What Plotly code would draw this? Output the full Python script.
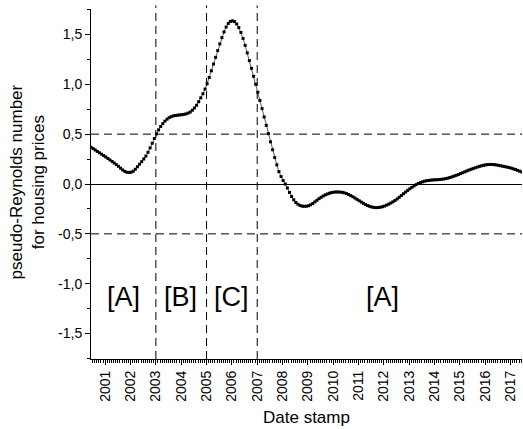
import plotly.graph_objects as go

# ---- data (monthly samples) ----
start_year = 2000.44
reynolds = [
    0.368, 0.355, 0.341, 0.327, 0.313, 0.299, 0.285, 0.271, 0.256, 0.241,
    0.226, 0.210, 0.194, 0.177, 0.159, 0.141, 0.127, 0.118, 0.116, 0.118,
    0.128, 0.148, 0.173, 0.198, 0.224, 0.251, 0.280, 0.318, 0.362, 0.409,
    0.456, 0.503, 0.543, 0.577, 0.605, 0.630, 0.650, 0.665, 0.676, 0.683,
    0.687, 0.690, 0.693, 0.695, 0.698, 0.703, 0.711, 0.722, 0.740, 0.763,
    0.790, 0.825, 0.864, 0.905, 0.952, 1.005, 1.068, 1.135, 1.203, 1.270,
    1.338, 1.405, 1.468, 1.525, 1.574, 1.610, 1.630, 1.636, 1.628, 1.605,
    1.568, 1.520, 1.460, 1.390, 1.315, 1.238, 1.160, 1.080, 1.000, 0.920,
    0.838, 0.756, 0.672, 0.588, 0.505, 0.423, 0.343, 0.265, 0.192, 0.124,
    0.075, 0.035, 0.000, -0.040, -0.085, -0.125, -0.158, -0.185, -0.203, -0.215,
    -0.222, -0.224, -0.223, -0.218, -0.209, -0.196, -0.180, -0.163, -0.147, -0.133,
    -0.120, -0.109, -0.100, -0.092, -0.086, -0.082, -0.080, -0.080, -0.081, -0.084,
    -0.089, -0.096, -0.105, -0.116, -0.128, -0.141, -0.154, -0.168, -0.181, -0.194,
    -0.205, -0.216, -0.224, -0.231, -0.235, -0.237, -0.236, -0.233, -0.228, -0.221,
    -0.212, -0.202, -0.191, -0.179, -0.165, -0.150, -0.133, -0.116, -0.098, -0.081,
    -0.064, -0.048, -0.033, -0.019, -0.006, 0.005, 0.014, 0.022, 0.028, 0.033,
    0.036, 0.039, 0.041, 0.042, 0.043, 0.045, 0.047, 0.050, 0.054, 0.059,
    0.065, 0.072, 0.080, 0.087, 0.095, 0.104, 0.113, 0.122, 0.131, 0.140,
    0.148, 0.155, 0.163, 0.170, 0.177, 0.183, 0.188, 0.192, 0.195, 0.196,
    0.196, 0.194, 0.191, 0.187, 0.183, 0.178, 0.174, 0.170, 0.165, 0.159,
    0.152, 0.145, 0.137, 0.129, 0.121,
]
dates = [start_year + i / 12 for i in range(len(reynolds))]

year_ticks = list(range(2001, 2018))
year_labels = [str(y) for y in year_ticks]
y_ticks = [-1.5, -1.0, -0.5, 0.0, 0.5, 1.0, 1.5]
y_labels = ["-1,5", "-1,0", "-0,5", "0,0", "0,5", "1,0", "1,5"]
phase_boundaries = [2003, 2005, 2007]
thresholds = [0.5, -0.5]
region_labels = ["[A]", "[B]", "[C]", "[A]"]
region_label_x = [2001.71, 2003.97, 2006.0, 2011.93]
region_label_y = -1.13

FONT = "Liberation Sans, Arial, sans-serif"

fig = go.Figure()
fig.add_trace(go.Scatter(
    x=dates, y=reynolds, mode="lines+markers",
    line=dict(color="#333333", width=0.8),
    marker=dict(symbol="square", size=3, color="black", line=dict(width=0)),
    showlegend=False, hoverinfo="skip",
))

shapes = []
for xb in phase_boundaries:
    shapes.append(dict(type="line", xref="x", yref="paper", x0=xb, x1=xb, y0=0, y1=1.01,
                       line=dict(color="black", width=1, dash="8px,5px")))
for yt in thresholds:
    shapes.append(dict(type="line", xref="paper", yref="y", x0=0, x1=1, y0=yt, y1=yt,
                       line=dict(color="black", width=1, dash="8px,5px")))

annotations = []
for txt, xv in zip(region_labels, region_label_x):
    annotations.append(dict(x=xv, y=region_label_y, xref="x", yref="y", text=txt,
                            showarrow=False, font=dict(family=FONT, size=27, color="black")))
annotations.append(dict(x=-0.148, y=0.505, xref="paper", yref="paper", textangle=-90,
                        text="pseudo-Reynolds number<br>for housing prices", showarrow=False,
                        xanchor="center", yanchor="middle",
                        font=dict(family=FONT, size=17, color="black")))
annotations.append(dict(x=0.5, y=-0.168, xref="paper", yref="paper", text="Date stamp",
                        showarrow=False, xanchor="center", yanchor="middle",
                        font=dict(family=FONT, size=17, color="black")))

fig.update_layout(
    width=523, height=429,
    margin=dict(l=91, r=1, t=9, b=70),
    paper_bgcolor="white", plot_bgcolor="white",
    font=dict(family=FONT, size=14, color="black"),
    shapes=shapes, annotations=annotations,
)
fig.update_xaxes(
    range=[2000.44, 2017.45], showgrid=False, zeroline=False,
    showline=True, linecolor="black", linewidth=1,
    tickmode="array", tickvals=year_ticks, ticktext=year_labels, tickangle=-90,
    ticks="outside", ticklen=5, tickcolor="black", tickwidth=1,
    tickfont=dict(family=FONT, size=14),
    minor=dict(dtick=1 / 12, tick0=2001, ticks="outside", ticklen=2.5, tickcolor="black", tickwidth=1),
)
fig.update_yaxes(
    range=[-1.755, 1.755], showgrid=False,
    zeroline=True, zerolinecolor="black", zerolinewidth=1,
    showline=True, linecolor="black", linewidth=1,
    tickmode="array", tickvals=y_ticks, ticktext=y_labels,
    ticks="outside", ticklen=5, tickcolor="black", tickwidth=1,
    tickfont=dict(family=FONT, size=14),
    minor=dict(dtick=0.25, tick0=0, ticks="outside", ticklen=3, tickcolor="black", tickwidth=1),
)

fig.write_html("out.html")
